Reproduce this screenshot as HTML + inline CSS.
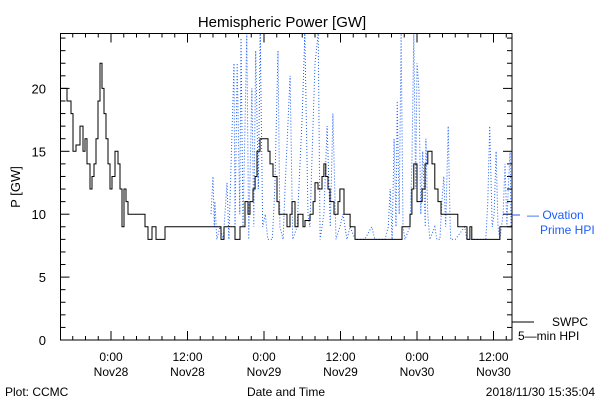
<!DOCTYPE html>
<html><head><meta charset="utf-8"><style>
body{margin:0;background:#fff;}
svg{display:block;font-family:"Liberation Sans",sans-serif;}
</style></head><body>
<svg id="chart" width="600" height="400">
<rect width="600" height="400" fill="#fff"/>
<text x="282" y="27" font-size="15" text-anchor="middle">Hemispheric Power [GW]</text>
<text transform="translate(20,187) rotate(-90)" font-size="13" text-anchor="middle">P [GW]</text>
<g id="axes"></g>
<g id="series"></g>
<rect x="60.5" y="33.5" width="451.5" height="306.5" fill="none" stroke="#000"/>
<line x1="512" y1="215" x2="520" y2="215" stroke="#1a5cff"/>
<text x="527" y="219" font-size="12" fill="#1a5cff">— Ovation</text>
<text x="540" y="234" font-size="12" fill="#1a5cff">Prime HPI</text>
<line x1="512" y1="322" x2="534" y2="322" stroke="#000"/>
<text x="552" y="326" font-size="12">SWPC</text>
<text x="518" y="340" font-size="12">5—min HPI</text>
<text x="286" y="396" font-size="12" text-anchor="middle">Date and Time</text>
<text x="5" y="396" font-size="12">Plot: CCMC</text>
<text x="595" y="396" font-size="12" text-anchor="end">2018/11/30 15:35:04</text>
</svg>
<script>
// hours since Nov28 00:00
const yTicks=[0,5,10,15,20];
const xTickHours=[0,12,24,36,48,60];
const xTickLabels=[["0:00","Nov28"],["12:00","Nov28"],["0:00","Nov29"],["12:00","Nov29"],["0:00","Nov30"],["12:00","Nov30"]];
const blackT=[-7.84,-6.9,-6.27,-5.96,-5.49,-4.86,-4.39,-4.08,-3.76,-3.29,-2.98,-2.67,-2.35,-2.04,-1.73,-1.41,-1.1,-0.78,-0.47,-0.16,0.16,0.63,1.1,1.41,1.73,2.04,2.35,2.67,3.14,5.33,5.8,6.43,7.06,8.47,8.94,17.25,17.73,19.45,20.24,21.02,21.49,21.8,22.27,22.6,22.9,23.37,24.63,24.94,25.41,26.04,26.35,27.61,28.08,28.39,28.86,29.33,30.12,30.43,31.22,31.7,32.0,32.47,33.1,33.4,33.7,34.04,34.35,34.98,35.6,35.9,36.55,37.5,38.27,45.65,46.9,47.2,47.5,48.0,48.8,49.25,49.7,50.35,50.8,51.3,51.76,52.86,54.4,55.84,56.3,56.6,61.0,62.9];
const blackV=[20,19,18,15,15.5,17,15,16,14,12,13,14,16,19,22,20,18,16,14,12,13,15,14,12,9,12,11,10,10,9,8,9,8,9,9,8,9,8,9,11,10,11,12,13,15,16,15,14,13,11,10,9,10,11,9,10,9,9.5,10,11,12.5,12,13,14,13,12,11,10,11,12,10,9,8,9,10,12,14,11,12,14,15,14,12,11,10,10,9,8,9,8,9,9];
const blueT=[15.69,16.0,16.2,16.3,16.6,17.1,17.6,18.2,18.5,19.3,19.45,19.8,20.2,20.4,20.7,21.3,21.6,22.1,22.4,22.7,23.1,23.4,23.8,24.2,24.6,25.3,25.7,26.2,26.5,27.0,27.3,28.1,28.5,29.2,30.0,30.4,30.9,31.2,31.5,32.0,32.5,32.8,33.4,33.9,34.4,34.8,35.3,35.9,36.4,37.0,37.5,38.3,39.8,40.9,41.4,42.98,43.5,43.8,44.1,44.4,44.7,44.9,45.2,45.5,45.8,46.1,46.9,47.2,47.5,47.8,48.0,48.3,48.6,48.9,49.3,49.4,49.7,50.0,50.8,51.1,51.6,51.9,52.2,52.5,52.9,53.2,53.3,54.0,55.5,55.8,58.8,59.1,59.4,59.8,60.1,60.4,60.7,61.0,61.5,61.8,62.1,62.3,62.6,62.75];
const blueV=[10,13,9,11,8,9,8,12.5,8,22,9,22,10,24,9,25,8,20,9,23,12,25,9,10,8,8,12,23,9,8,12,21,8,9,18,25,10,9,14,22,25,8,10,17,9,18,8,9,10,8,9,8,8,9,8,8,9,12,8,16,9,19,10,25,9,8,9,14,25,12,22,20,10,15,9,16,10,8,9,8,8,11,13,9,17,9,8,8,9,8,8,11,17,9,10,15,9,8,10,14,9,12,15,9];
const NS="http://www.w3.org/2000/svg";
const L=60.5,R=512,T=33.5,B=340;
const xS=t=>111+t*6.375;
const yS=v=>B-v*12.58;
function mk(tag,attrs,parent){const e=document.createElementNS(NS,tag);for(const k in attrs)e.setAttribute(k,attrs[k]);parent.appendChild(e);return e;}
const ax=document.getElementById('axes'),se=document.getElementById('series');
for(let v=0;v<=24;v++){const y=yS(v);const major=v%5===0;
 const tk=mk('line',{x1:L,x2:L+(major?9:5),y1:y,y2:y,stroke:'#000'},ax);
 
 
 const tk2=mk('line',{x1:R,x2:R-(major?9:5),y1:y,y2:y,stroke:'#000'},ax);
 
 }
yTicks.forEach(v=>{const t=mk('text',{x:46,y:yS(v)+5,'font-size':13,'text-anchor':'end'},ax);t.textContent=v;
 
 });
for(let h=-6;h<=62;h+=2){const x=xS(h);const major=h%12===0;
 const tk=mk('line',{x1:x,x2:x,y1:B,y2:B-(major?9:4),stroke:'#000'},ax);
 
 
 const tt=mk('line',{x1:x,x2:x,y1:T,y2:T+(major?9:4),stroke:'#000'},ax);
 
 }
xTickHours.forEach((h,i)=>{const x=xS(h);
 const a=mk('text',{x:x,y:361,'font-size':12,'text-anchor':'middle'},ax);a.textContent=xTickLabels[i][0];
 
 
 const b=mk('text',{x:x,y:376,'font-size':12,'text-anchor':'middle'},ax);b.textContent=xTickLabels[i][1];
 
 });
let bp=blueT.map((t,i)=>xS(t).toFixed(1)+','+Math.max(T,yS(blueV[i])).toFixed(1)).join(' ');
const bl=mk('polyline',{points:bp,fill:'none',stroke:'#1a5cff','stroke-width':1,'stroke-dasharray':'1,2'},se);


let pts=[];for(let i=0;i<blackT.length-1;i++){const y=yS(blackV[i]).toFixed(1);pts.push(xS(blackT[i]).toFixed(1)+','+y);pts.push(xS(blackT[i+1]).toFixed(1)+','+y);}
const bk=mk('polyline',{points:pts.join(' '),fill:'none',stroke:'#000','stroke-width':1},se);


</script>
</body></html>
